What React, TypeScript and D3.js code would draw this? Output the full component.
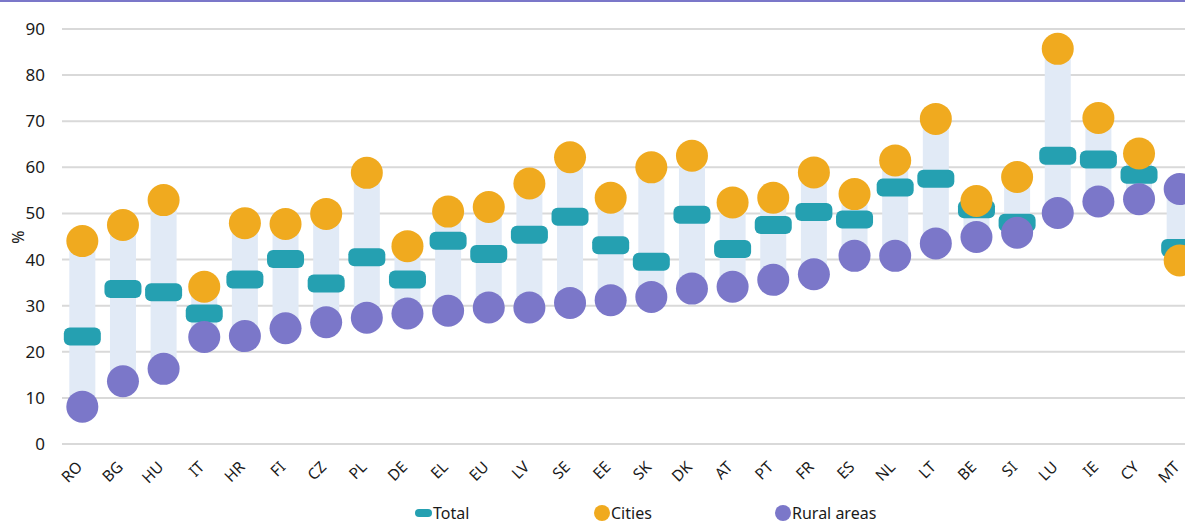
import React from 'react';
import * as d3 from 'd3';

const countries = ['RO', 'BG', 'HU', 'IT', 'HR', 'FI', 'CZ', 'PL', 'DE', 'EL', 'EU', 'LV', 'SE', 'EE', 'SK', 'DK', 'AT', 'PT', 'FR', 'ES', 'NL', 'LT', 'BE', 'SI', 'LU', 'IE', 'CY', 'MT'];
const total = [23.3, 33.6, 32.9, 28.3, 35.7, 40.1, 34.8, 40.5, 35.7, 44.1, 41.2, 45.4, 49.3, 43.1, 39.5, 49.7, 42.3, 47.5, 50.3, 48.7, 55.6, 57.5, 50.9, 48.0, 62.5, 61.7, 58.4, 42.5];
const cities = [44.0, 47.5, 52.9, 34.1, 47.9, 47.7, 49.9, 58.8, 42.9, 50.4, 51.4, 56.5, 62.2, 53.4, 60.0, 62.5, 52.4, 53.4, 58.9, 54.2, 61.5, 70.5, 52.7, 57.9, 85.7, 70.7, 63.0, 39.8];
const rural = [8.1, 13.6, 16.3, 23.2, 23.4, 25.1, 26.4, 27.4, 28.3, 28.9, 29.6, 29.6, 30.6, 31.2, 31.9, 33.7, 34.1, 35.6, 36.8, 40.8, 40.8, 43.5, 44.9, 45.8, 50.1, 52.6, 53.1, 55.3];
const yTicks = [0, 10, 20, 30, 40, 50, 60, 70, 80, 90];

const W = 1185;
const H = 523;
const FONT = '"Noto Sans", sans-serif';
const TEAL = '#25a0b1';
const ORANGE = '#f0aa1f';
const PURPLE = '#7b77c9';
const RANGE = '#e1eaf6';

export default function App() {
  const x = d3.scaleBand<string>().domain(countries).range([62, 1200]);
  const y = d3.scaleLinear().domain([0, 90]).range([444, 29]);
  const cx = (c: string) => (x(c) as number) + x.bandwidth() / 2;

  return (
    <div style={{ position: 'absolute', left: 0, top: 0 }}>
      <svg width={W} height={H} style={{ display: 'block', overflow: 'hidden', fontFamily: FONT }}>
        <rect x={0} y={0} width={W} height={2} fill={PURPLE} />
        {/* grid + y labels */}
        {yTicks.map((t) => (
          <g key={t}>
            <line x1={62} x2={W} y1={y(t)} y2={y(t)} stroke="#d9d9d9" strokeWidth={2} />
            <text x={45} y={y(t)} dy="0.35em" textAnchor="end" fontSize={17} fill="#1a1a1a">{t}</text>
          </g>
        ))}
        <text transform="translate(24,237) rotate(-90)" textAnchor="middle" fontSize={16} fill="#1a1a1a">%</text>

        {/* range bars */}
        {countries.map((c, i) => {
          const lo = Math.min(cities[i], rural[i]);
          const hi = Math.max(cities[i], rural[i]);
          return <rect key={'r' + c} x={cx(c) - 13} width={26} y={y(hi)} height={y(lo) - y(hi)} fill={RANGE} />;
        })}
        {/* total */}
        {countries.map((c, i) => (
          <rect key={'t' + c} x={cx(c) - 18.5} width={37} y={y(total[i]) - 9} height={18} rx={6} fill={TEAL} />
        ))}
        {/* cities */}
        {countries.map((c, i) => (
          <circle key={'c' + c} cx={cx(c)} cy={y(cities[i])} r={16} fill={ORANGE} />
        ))}
        {/* rural */}
        {countries.map((c, i) => (
          <circle key={'u' + c} cx={cx(c)} cy={y(rural[i])} r={16} fill={PURPLE} />
        ))}

        {/* x labels */}
        {countries.map((c) => (
          <text key={'x' + c} transform={`translate(${cx(c) + 1},468) rotate(-45)`} textAnchor="end" fontSize={15.5} fill="#1a1a1a">{c}</text>
        ))}

        {/* legend */}
        <rect x={415} y={509} width={17} height={8} rx={4} fill={TEAL} />
        <text x={433} y={513} dy="0.35em" fontSize={16} fill="#1a1a1a">Total</text>
        <circle cx={602} cy={513} r={8} fill={ORANGE} />
        <text x={611} y={513} dy="0.35em" fontSize={16} fill="#1a1a1a">Cities</text>
        <circle cx={783} cy={513} r={8} fill={PURPLE} />
        <text x={792} y={513} dy="0.35em" fontSize={16} fill="#1a1a1a">Rural areas</text>
      </svg>
    </div>
  );
}
